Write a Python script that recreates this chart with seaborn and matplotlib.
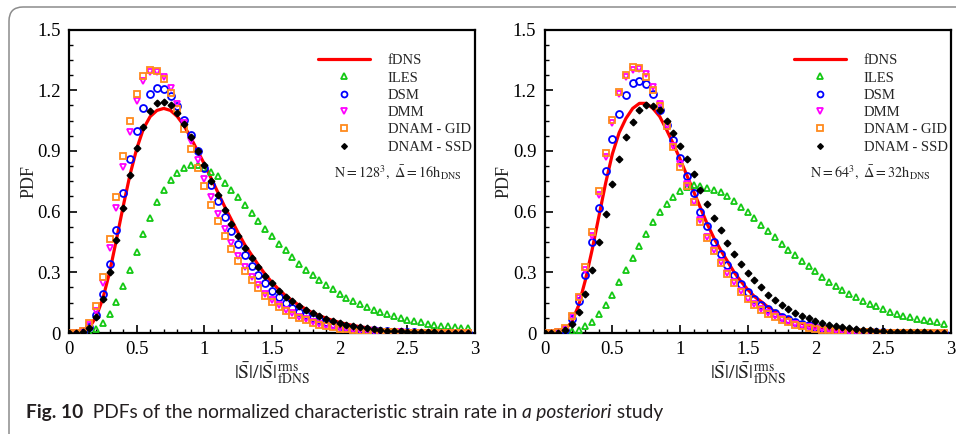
import numpy as np
import matplotlib
matplotlib.use("Agg")
import matplotlib.pyplot as plt
import seaborn as sns
from matplotlib.patches import FancyBboxPatch
from matplotlib.transforms import IdentityTransform
from matplotlib.ticker import MultipleLocator, FuncFormatter

sns.set_style("ticks")
plt.rcParams['font.family'] = ['Liberation Serif', 'DejaVu Serif']
plt.rcParams['mathtext.fontset'] = 'stix'

# sample grid of the PDFs
X = np.round(np.arange(0, 3.0, 0.05), 2)

# N = 128^3 panel
fdns_128 = [0.0, 0.0, 0.004, 0.025, 0.08, 0.17, 0.30, 0.46, 0.625, 0.78,
            0.91, 1.01, 1.07, 1.10, 1.11, 1.10, 1.07, 1.025, 0.965, 0.90,
            0.835, 0.765, 0.695, 0.625, 0.56, 0.495, 0.435, 0.385, 0.335, 0.29,
            0.25, 0.215, 0.185, 0.16, 0.137, 0.118, 0.10, 0.086, 0.073, 0.062,
            0.052, 0.044, 0.037, 0.031, 0.026, 0.022, 0.018, 0.015, 0.012, 0.010,
            0.008, 0.007, 0.006, 0.005, 0.004, 0.003, 0.003, 0.002, 0.002, 0.001]
iles_128 = [0, 0, 0.001, 0.005, 0.02, 0.05, 0.095, 0.155, 0.23, 0.31,
            0.40, 0.49, 0.57, 0.645, 0.705, 0.755, 0.79, 0.815, 0.83, 0.828,
            0.815, 0.795, 0.775, 0.74, 0.705, 0.67, 0.635, 0.595, 0.555, 0.515,
            0.48, 0.44, 0.41, 0.375, 0.34, 0.31, 0.285, 0.26, 0.237, 0.215,
            0.195, 0.175, 0.16, 0.143, 0.128, 0.115, 0.103, 0.094, 0.084, 0.074,
            0.066, 0.058, 0.052, 0.046, 0.041, 0.037, 0.033, 0.029, 0.026, 0.023]
dsm_128 = [0, 0, 0.005, 0.03, 0.09, 0.195, 0.34, 0.51, 0.69, 0.86,
           1.00, 1.11, 1.18, 1.21, 1.205, 1.17, 1.12, 1.055, 0.98, 0.90,
           0.815, 0.73, 0.65, 0.575, 0.505, 0.44, 0.385, 0.33, 0.285, 0.245,
           0.21, 0.18, 0.15, 0.125, 0.105, 0.09, 0.075, 0.063, 0.053, 0.044,
           0.037, 0.03, 0.025, 0.02, 0.016, 0.013, 0.01, 0.008, 0.006, 0.005,
           0.004, 0.003, 0.002, 0.002, 0.001, 0.001, 0.001, 0.0, 0.0, 0.0]
dmm_128 = [0, 0, 0.008, 0.04, 0.11, 0.245, 0.42, 0.62, 0.82, 0.995,
           1.145, 1.245, 1.29, 1.29, 1.265, 1.21, 1.13, 1.04, 0.95, 0.855,
           0.76, 0.67, 0.59, 0.515, 0.445, 0.38, 0.325, 0.275, 0.235, 0.195,
           0.165, 0.14, 0.115, 0.097, 0.08, 0.067, 0.055, 0.045, 0.037, 0.03,
           0.025, 0.02, 0.016, 0.013, 0.01, 0.008, 0.006, 0.005, 0.004, 0.003,
           0.002, 0.002, 0.001, 0.001, 0.001, 0, 0, 0, 0, 0]
gid_128 = [0, 0.002, 0.012, 0.05, 0.135, 0.275, 0.465, 0.67, 0.875, 1.05,
           1.18, 1.27, 1.30, 1.295, 1.255, 1.185, 1.105, 1.01, 0.91, 0.815,
           0.725, 0.635, 0.555, 0.48, 0.415, 0.355, 0.305, 0.26, 0.22, 0.185,
           0.155, 0.13, 0.108, 0.09, 0.075, 0.062, 0.051, 0.042, 0.034, 0.028,
           0.022, 0.018, 0.014, 0.011, 0.009, 0.007, 0.005, 0.004, 0.003, 0.002,
           0.002, 0.001, 0.001, 0.001, 0, 0, 0, 0, 0, 0]
ssd_128 = [0, 0.0, 0.005, 0.025, 0.08, 0.17, 0.30, 0.46, 0.62, 0.78,
           0.915, 1.02, 1.095, 1.135, 1.14, 1.125, 1.085, 1.035, 0.97, 0.90,
           0.83, 0.75, 0.68, 0.61, 0.54, 0.48, 0.42, 0.37, 0.325, 0.28,
           0.245, 0.21, 0.18, 0.16, 0.135, 0.115, 0.098, 0.084, 0.07, 0.06,
           0.05, 0.041, 0.034, 0.028, 0.023, 0.019, 0.015, 0.012, 0.01, 0.008,
           0.006, 0.005, 0.004, 0.003, 0.003, 0.002, 0.002, 0.001, 0.001, 0.001]

# N = 64^3 panel
fdns_64 = [0, 0, 0.003, 0.015, 0.055, 0.135, 0.26, 0.41, 0.575, 0.74,
           0.885, 0.99, 1.06, 1.11, 1.135, 1.135, 1.11, 1.07, 1.005, 0.935,
           0.86, 0.78, 0.70, 0.62, 0.54, 0.47, 0.41, 0.355, 0.30, 0.255,
           0.215, 0.18, 0.155, 0.128, 0.105, 0.088, 0.072, 0.059, 0.048, 0.039,
           0.031, 0.025, 0.02, 0.016, 0.013, 0.01, 0.008, 0.006, 0.005, 0.004,
           0.003, 0.002, 0.002, 0.001, 0.001, 0.001, 0, 0, 0, 0]
iles_64 = [0, 0, 0, 0.002, 0.008, 0.016, 0.033, 0.056, 0.094, 0.14,
           0.19, 0.25, 0.31, 0.37, 0.43, 0.49, 0.55, 0.60, 0.64, 0.67,
           0.70, 0.72, 0.73, 0.727, 0.715, 0.707, 0.695, 0.675, 0.65, 0.625,
           0.60, 0.57, 0.535, 0.505, 0.475, 0.44, 0.41, 0.385, 0.355, 0.33,
           0.305, 0.275, 0.253, 0.233, 0.214, 0.195, 0.176, 0.16, 0.145, 0.132,
           0.117, 0.105, 0.095, 0.086, 0.077, 0.07, 0.063, 0.057, 0.052, 0.046]
dsm_64 = [0, 0, 0.003, 0.015, 0.07, 0.16, 0.285, 0.45, 0.62, 0.80,
          0.96, 1.08, 1.175, 1.235, 1.245, 1.23, 1.18, 1.10, 1.03, 0.955,
          0.865, 0.775, 0.69, 0.60, 0.53, 0.45, 0.39, 0.335, 0.285, 0.24,
          0.205, 0.17, 0.14, 0.118, 0.097, 0.08, 0.067, 0.056, 0.046, 0.038,
          0.031, 0.025, 0.02, 0.016, 0.013, 0.01, 0.008, 0.006, 0.005, 0.004,
          0.003, 0.002, 0.002, 0.001, 0.001, 0.001, 0, 0, 0, 0]
dmm_64 = [0, 0, 0.003, 0.02, 0.08, 0.175, 0.31, 0.48, 0.68, 0.87,
          1.04, 1.18, 1.265, 1.30, 1.305, 1.28, 1.215, 1.13, 1.025, 0.925,
          0.835, 0.735, 0.645, 0.56, 0.475, 0.41, 0.35, 0.295, 0.25, 0.21,
          0.17, 0.145, 0.12, 0.10, 0.083, 0.068, 0.056, 0.046, 0.037, 0.03,
          0.024, 0.019, 0.015, 0.012, 0.009, 0.007, 0.005, 0.004, 0.003, 0.002,
          0.002, 0.001, 0.001, 0.001, 0, 0, 0, 0, 0, 0]
gid_64 = [0, 0.001, 0.005, 0.025, 0.085, 0.18, 0.325, 0.50, 0.70, 0.89,
          1.055, 1.19, 1.275, 1.315, 1.31, 1.265, 1.20, 1.12, 1.025, 0.92,
          0.82, 0.725, 0.645, 0.55, 0.47, 0.405, 0.345, 0.29, 0.245, 0.205,
          0.17, 0.14, 0.115, 0.095, 0.078, 0.064, 0.052, 0.042, 0.034, 0.027,
          0.022, 0.017, 0.013, 0.01, 0.008, 0.006, 0.005, 0.004, 0.003, 0.002,
          0.001, 0.001, 0.001, 0, 0, 0, 0, 0, 0, 0]
ssd_64 = [0, 0, 0.0, 0.015, 0.045, 0.105, 0.195, 0.31, 0.45, 0.59,
          0.735, 0.86, 0.97, 1.045, 1.10, 1.125, 1.12, 1.10, 1.05, 0.99,
          0.925, 0.86, 0.785, 0.705, 0.64, 0.57, 0.51, 0.445, 0.39, 0.34,
          0.295, 0.26, 0.225, 0.19, 0.165, 0.14, 0.12, 0.10, 0.085, 0.072,
          0.06, 0.05, 0.042, 0.035, 0.029, 0.024, 0.019, 0.016, 0.013, 0.011,
          0.009, 0.007, 0.006, 0.005, 0.004, 0.003, 0.003, 0.002, 0.002, 0.001]

LABELS = ['ILES', 'DSM', 'DMM', 'DNAM - GID', 'DNAM - SSD']
MARKERS = ['^', 'o', 'v', 's', 'D']
COLORS = ['#14c814', '#0000ff', '#ff00ff', '#ff8a1c', '#000000']
SIZES = [4.6, 5.0, 4.8, 4.6, 3.4]

panels = [
    (fdns_128, [iles_128, dsm_128, dmm_128, gid_128, ssd_128],
     r'$\mathrm{N=128^3,\ \bar{\Delta}=16h_{DNS}}$'),
    (fdns_64, [iles_64, dsm_64, dmm_64, gid_64, ssd_64],
     r'$\mathrm{N=64^3,\ \bar{\Delta}=32h_{DNS}}$'),
]

fig = plt.figure(figsize=(9.56, 4.34), dpi=100)

# rounded frame around the figure
frame = FancyBboxPatch((9, -60), 1200, 434 - 7 + 60,
                       boxstyle='round,pad=0,rounding_size=14',
                       transform=IdentityTransform(), facecolor='none',
                       edgecolor='#8c8c8c', linewidth=1.1)
fig.patches.append(frame)

fmt = FuncFormatter(lambda v, p: f'{v:g}')
lefts = [69 / 956, 544.7 / 956]

for left, (fdns, series, note) in zip(lefts, panels):
    ax = fig.add_axes([left, 101 / 434, 406 / 956, 303.5 / 434])
    sns.lineplot(x=X, y=fdns, ax=ax, color='#ff0000', linewidth=2.3,
                 label='fDNS', zorder=2)
    for vals, lab, mk, col, ms in zip(series, LABELS, MARKERS, COLORS, SIZES):
        filled = mk == 'D'
        sns.lineplot(x=X, y=vals, ax=ax, label=lab, linestyle='',
                     marker=mk, markersize=ms,
                     markerfacecolor=col if filled else 'none',
                     markeredgecolor=col,
                     markeredgewidth=1.0 if filled else 1.3, color=col,
                     zorder=3)
    ax.set_xlim(0, 3)
    ax.set_ylim(0, 1.5)
    ax.xaxis.set_major_locator(MultipleLocator(0.5))
    ax.xaxis.set_minor_locator(MultipleLocator(0.1))
    ax.yaxis.set_major_locator(MultipleLocator(0.3))
    ax.yaxis.set_minor_locator(MultipleLocator(0.075))
    ax.xaxis.set_major_formatter(fmt)
    ax.yaxis.set_major_formatter(fmt)
    ax.tick_params(which='both', direction='in', top=False, right=False,
                   labelsize=13.5, colors='black', pad=6)
    ax.tick_params(which='major', length=6, width=1.2)
    ax.tick_params(which='minor', length=3, width=1.0)
    for sp in ax.spines.values():
        sp.set_visible(True)
        sp.set_linewidth(1.6)
        sp.set_color('black')
    ax.set_ylabel('PDF', fontsize=13, labelpad=0)
    ax.set_xlabel(r'$\mathrm{|\bar{S}|/|\bar{S}|^{rms}_{fDNS}}$',
                  fontsize=14, labelpad=1)
    ax.text(0.653, 0.515, note, transform=ax.transAxes, fontsize=10.3,
            ha='left', va='baseline')
    ax.legend(loc='upper left', bbox_to_anchor=(0.613, 0.919), frameon=False,
              fontsize=10.5, handlelength=3.6, handletextpad=1.2,
              labelspacing=0.28, borderpad=0, borderaxespad=0,
              markerscale=0.85)

# caption with bold figure number and italic phrase
cap_y = 1 - 418 / 434
parts = [('Fig. 10', 'bold', 'normal'),
         ('  PDFs of the normalized characteristic strain rate in ', 'normal', 'normal'),
         ('a posteriori', 'normal', 'italic'),
         (' study', 'normal', 'normal')]
fig.canvas.draw()
renderer = fig.canvas.get_renderer()
xpos = 26
for txt, wt, st in parts:
    t = fig.text(xpos / 956, cap_y, txt, fontsize=13.8, fontweight=wt,
                 fontstyle=st, family=['Lato', 'DejaVu Sans'],
                 ha='left', va='baseline', color='#231f20')
    bb = t.get_window_extent(renderer=renderer)
    xpos += bb.width

fig.savefig('out.png', dpi=100)
